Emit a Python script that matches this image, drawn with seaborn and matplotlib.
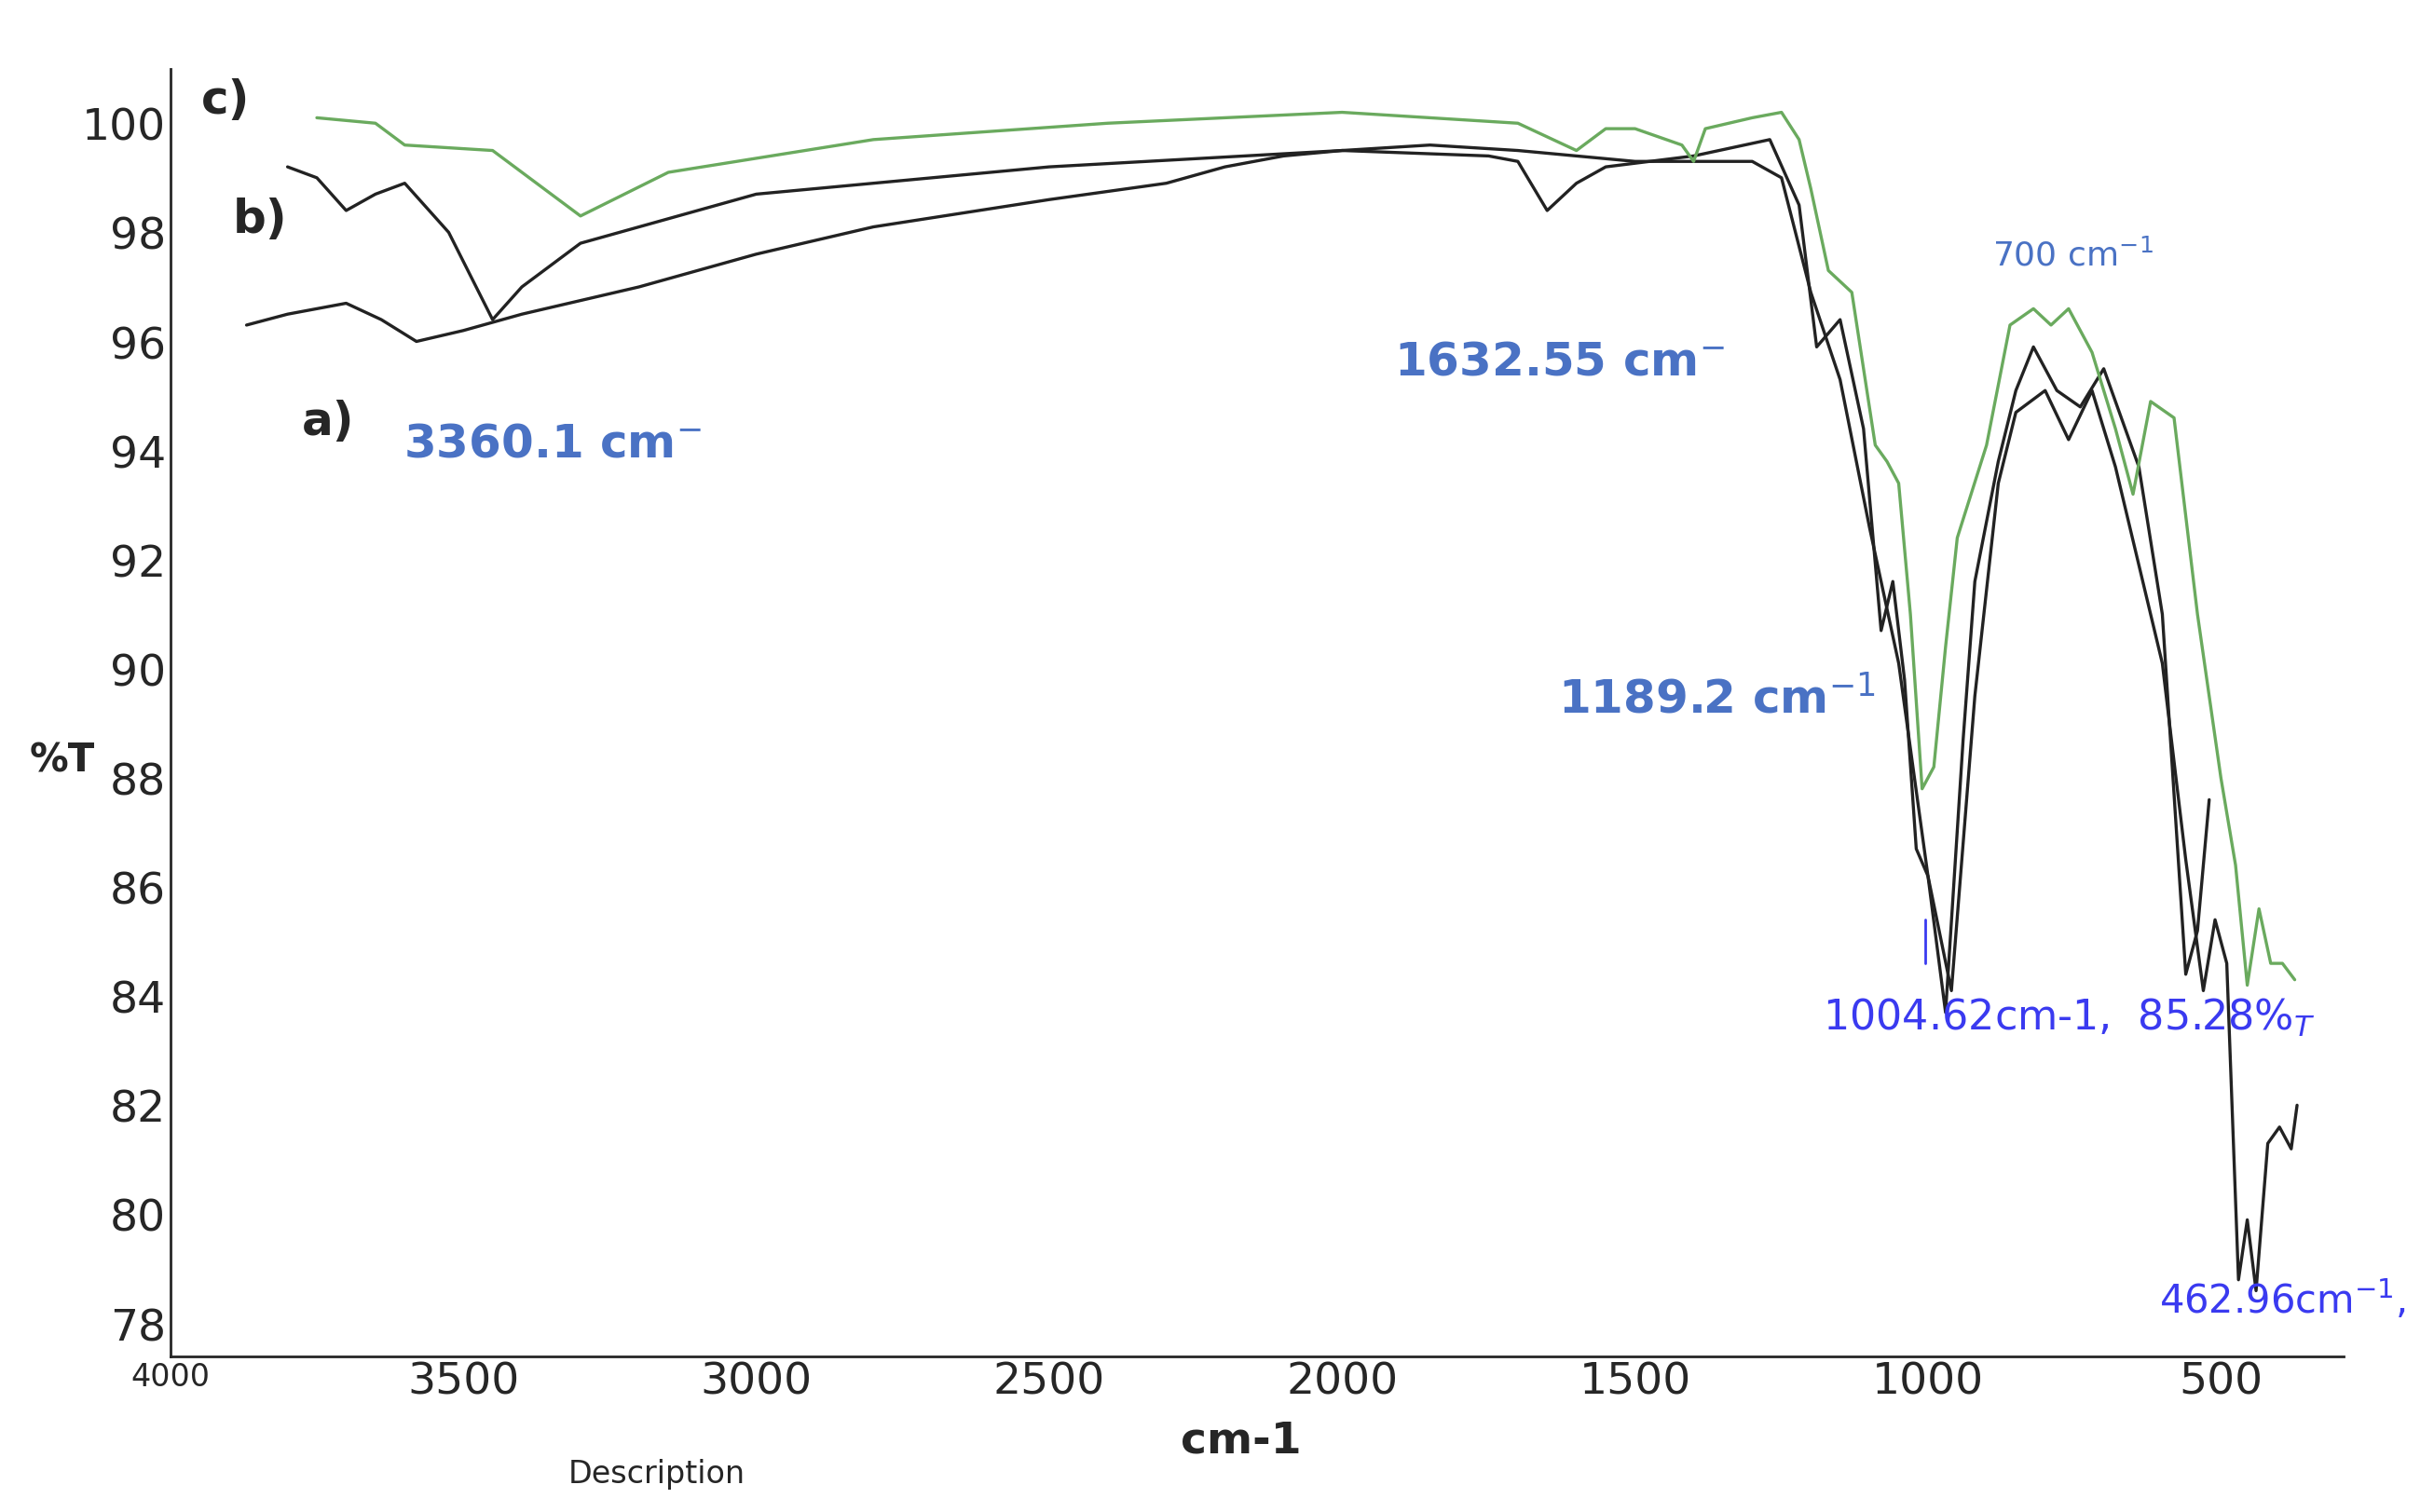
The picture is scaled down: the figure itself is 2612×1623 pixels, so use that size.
import matplotlib
matplotlib.use("Agg")
import matplotlib.pyplot as plt
import seaborn as sns
import pandas as pd

sns.set_style("white")
plt.rcParams['font.family'] = ['DejaVu Sans']

wn_c = [3750,3650,3600,3450,3300,3150,2800,2400,2000,1700,1600,1550,1500,1420,1400,1380,1300,1250,1220,1200,1170,1130,1090,1070,1050,1030,1010,990,970,950,900,860,820,790,760,720,680,650,620,580,540,500,475,455,435,415,395,374]
t_c = [100.1,100.0,99.6,99.5,98.3,99.1,99.7,100.0,100.2,100.0,99.5,99.9,99.9,99.6,99.3,99.9,100.1,100.2,99.7,98.8,97.3,96.9,94.1,93.8,93.4,91.0,87.8,88.2,90.4,92.4,94.1,96.3,96.6,96.3,96.6,95.8,94.4,93.2,94.9,94.6,91.0,88.0,86.4,84.2,85.6,84.6,84.6,84.3]

wn_b = [3800,3750,3700,3650,3600,3525,3450,3400,3300,3000,2500,2000,1750,1700,1650,1600,1550,1400,1270,1220,1190,1150,1110,1080,1060,1040,1020,1000,970,940,920,880,850,820,780,740,700,640,600,560,540,520]
t_b = [99.2,99.0,98.4,98.7,98.9,98.0,96.4,97.0,97.8,98.7,99.2,99.5,99.4,99.3,98.4,98.9,99.2,99.4,99.7,98.5,95.9,96.4,94.4,90.7,91.6,89.8,86.7,86.2,83.7,88.7,91.6,93.8,95.1,95.9,95.1,94.8,95.5,93.7,91.0,84.4,85.2,87.6]

wn_a = [3870,3800,3700,3640,3580,3500,3400,3200,3000,2800,2500,2300,2200,2100,2000,1850,1700,1500,1300,1250,1200,1150,1100,1050,1000,960,920,880,850,800,760,720,680,600,560,530,510,490,470,455,440,420,400,380,370]
t_a = [96.3,96.5,96.7,96.4,96.0,96.2,96.5,97.0,97.6,98.1,98.6,98.9,99.2,99.4,99.5,99.6,99.5,99.3,99.3,99.0,96.9,95.3,92.6,90.1,86.2,84.1,89.5,93.4,94.7,95.1,94.2,95.1,93.7,90.1,86.5,84.1,85.4,84.6,78.8,79.9,78.6,81.3,81.6,81.2,82.0]

df = pd.concat([
    pd.DataFrame({"wn": wn_a, "T": t_a, "s": "a"}),
    pd.DataFrame({"wn": wn_b, "T": t_b, "s": "b"}),
    pd.DataFrame({"wn": wn_c, "T": t_c, "s": "c"}),
])

fig = plt.figure(figsize=(26.12, 16.24), dpi=100)
ax = fig.add_axes([0.07, 0.103, 0.893, 0.851])
sns.lineplot(data=df, x="wn", y="T", hue="s", sort=False, estimator=None,
             palette={"a": "#222222", "b": "#222222", "c": "#6aaa5e"}, linewidth=2.4, legend=False, ax=ax)
ax.set_xlim(4000, 290)
ax.set_ylim(77.4, 101)
ax.set_xticks([4000,3500,3000,2500,2000,1500,1000,500])
ax.set_xticklabels(["4000","3500","3000","2500","2000","1500","1000","500"])
ax.set_yticks(list(range(78, 101, 2)))
ax.tick_params(labelsize=34, length=0)
for lbl in ax.get_xticklabels()[:1]:
    lbl.set_fontsize(24)
for s in ["top", "right"]:
    ax.spines[s].set_visible(False)
for s in ["left", "bottom"]:
    ax.spines[s].set_linewidth(2)
ax.set_xlabel("")
ax.set_ylabel("")
fig.text(0.012, 0.49, "%T", fontsize=30, fontweight="bold")
fig.text(0.51, 0.04, "cm-1", fontsize=34, fontweight="bold", ha="center")
fig.text(0.27, 0.02, "Description", fontsize=24, ha="center")

blue = "#4a72c4"
ax.text(3947, 100.2, "c)", fontsize=36, fontweight="bold")
ax.text(3894, 98.0, "b)", fontsize=36, fontweight="bold")
ax.text(3775, 94.3, "a)", fontsize=36, fontweight="bold")
ax.text(3602, 93.9, "3360.1 cm$^{-}$", fontsize=36, fontweight="bold", color=blue)
ax.text(1911, 95.4, "1632.55 cm$^{-}$", fontsize=36, fontweight="bold", color=blue)
ax.text(1632, 89.2, "1189.2 cm$^{-1}$", fontsize=36, fontweight="bold", color=blue)
ax.text(890, 97.4, "700 cm$^{-1}$", fontsize=26, color=blue)
ax.text(1180, 83.4, "1004.62cm-1,  85.28%$_T$", fontsize=32, color="#3a3af0")
ax.text(606, 78.2, "462.96cm$^{-1}$,", fontsize=30, color="#3a3af0")
ax.plot([1004.6, 1004.6], [84.6, 85.4], color="#3a3af0", lw=2)
fig.savefig("out.png", dpi=100)
